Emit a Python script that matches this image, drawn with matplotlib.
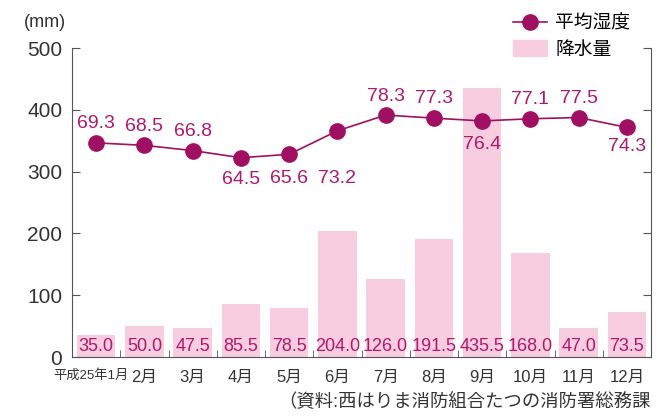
import matplotlib.pyplot as plt
from matplotlib.patches import Patch
from matplotlib.lines import Line2D
from matplotlib.transforms import ScaledTranslation

plt.rcParams['font.family'] = ['Liberation Sans', 'Noto Sans CJK JP']

months = ['平成25年1月', '2月', '3月', '4月', '5月', '6月', '7月', '8月', '9月', '10月', '11月', '12月']
rain = [35.0, 50.0, 47.5, 85.5, 78.5, 204.0, 126.0, 191.5, 435.5, 168.0, 47.0, 73.5]
humidity = [69.3, 68.5, 66.8, 64.5, 65.6, 73.2, 78.3, 77.3, 76.4, 77.1, 77.5, 74.3]
# label offset (pixels, + = below marker)
hum_off = [-19, -19, -19, 22, 24, 48, -19, -20, 24, -19, -19, 19]

bar_c = '#f8cde0'
line_c = '#a01062'
txt_c = '#b0186c'
ax_c = '#555555'

fig = plt.figure(figsize=(6.57, 4.16), dpi=100)
ax = fig.add_axes([0.1096, 0.1418, 0.8814, 0.7428])
x = list(range(len(months)))

ax.bar(x, rain, width=0.8, color=bar_c, zorder=1)
for xi, v in zip(x, rain):
    ax.text(xi, 17, f'{v:.1f}', ha='center', va='center', fontsize=13, color=txt_c, zorder=3)

ax.set_xlim(-0.5, 11.5)
ax.set_ylim(0, 500)
ax.set_yticks([0, 100, 200, 300, 400, 500])
ax.tick_params(axis='y', direction='in', length=6, color=ax_c, labelsize=15, labelcolor='#333333', pad=7)
ax.set_xticks(x)
ax.set_xticklabels(months, fontsize=12, color='#333333')
ax.tick_params(axis='x', length=0, pad=9)
ax.set_xticks([i + 0.5 for i in range(11)], minor=True)
ax.tick_params(axis='x', which='minor', direction='in', length=5, color=ax_c)
first = ax.get_xticklabels()[0]
first.set_fontsize(9.5)
first.set_transform(first.get_transform() + ScaledTranslation(-5 / 100, 0, fig.dpi_scale_trans))
for s in ['left', 'bottom', 'right']:
    ax.spines[s].set_color(ax_c)
ax.spines['top'].set_visible(False)

ax2 = ax.twinx()
ax2.set_ylim(0, 100)
ax2.set_yticks([20, 40, 60, 80, 100])
ax2.tick_params(axis='y', direction='in', length=6, color=ax_c, labelright=False)
for s in ['left', 'bottom', 'right', 'top']:
    ax2.spines[s].set_visible(False)
ax2.plot(x, humidity, color=line_c, lw=1.2, marker='o', ms=11, zorder=4)
for xi, v, off in zip(x, humidity, hum_off):
    ax2.annotate(f'{v:.1f}', (xi, v), xytext=(0, -off * 0.72), textcoords='offset points',
                 ha='center', va='center', fontsize=14, color=txt_c)

fig.text(0.036, 0.945, '(mm)', fontsize=13, color='#333333', va='center')
fig.text(0.99, 0.035, '（資料:西はりま消防組合たつの消防署総務課', fontsize=13.2, color='#333333',
         ha='right', va='center')

handles = [Line2D([], [], color=line_c, lw=1.2, marker='o', ms=11),
           Patch(color=bar_c)]
fig.legend(handles, ['平均湿度', '降水量'], loc='upper left', bbox_to_anchor=(513 / 657, 0.965),
           frameon=False, fontsize=13.5, handlelength=1.8, handleheight=0.9, labelspacing=0.4,
           handletextpad=0.45, borderpad=0, borderaxespad=0)

fig.savefig('out.png', dpi=100)
